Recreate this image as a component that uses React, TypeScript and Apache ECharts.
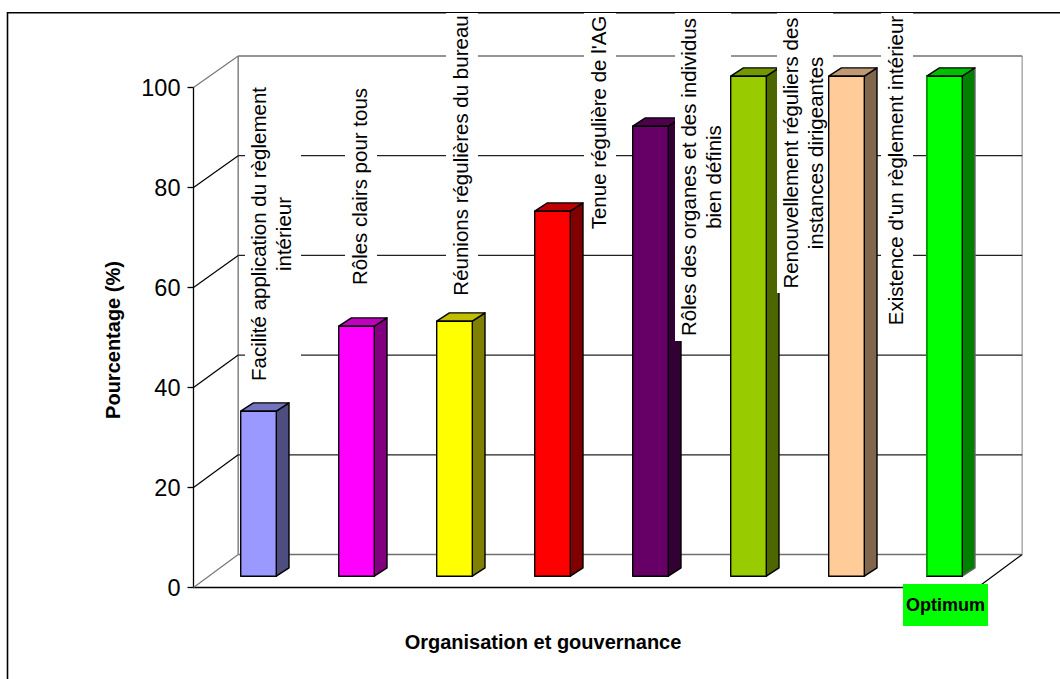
import React, { useEffect, useRef } from "react";
import * as echarts from "echarts";

const categories = [
  "Facilité application du règlement\nintérieur",
  "Rôles clairs pour tous",
  "Réunions régulières du bureau",
  "Tenue régulière de l'AG",
  "Rôles des organes et des individus\nbien définis",
  "Renouvellement réguliers des\ninstances dirigeantes",
  "Existence d'un règlement intérieur",
  "Optimum",
];
const values = [33, 50, 51, 73, 90, 100, 100, 100];
const yTicks = [0, 20, 40, 60, 80, 100];

const frontColors = ["#9999FF", "#FF00FF", "#FFFF00", "#FF0000", "#660066", "#99CC00", "#FFCC99", "#00FF00"];
const sideColors = ["#4D4D80", "#800080", "#808000", "#800000", "#330033", "#4D6600", "#80664D", "#008000"];
const topColors = ["#7373BF", "#BF00BF", "#BFBF00", "#BF0000", "#4D004D", "#739900", "#BF9973", "#00BF00"];

// label boxes in page pixels: left, top, right, bottom
const labelBoxes = [
  [245, 85, 301, 383],
  [345, 85, 377, 288],
  [446, 13, 478, 298],
  [584, 13, 616, 232],
  [675, 13, 731, 341],
  [777, 13, 833, 293],
  [881, 13, 913, 328],
  [903, 584, 988, 626],
];

const FONT = "'Liberation Sans', Arial, sans-serif";
const WALL_DX = 44.7;
const WALL_DY = -33;
const WALL_SQUEEZE = 1.5;
const BAR_SHIFT_X = 16;
const BAR_SHIFT_Y = -11.3;
const BAR_W = 35.6;
const BAR_DX = 12.7;
const BAR_DY = -8.3;
const LABEL_SHIFT_X = -2;

function renderWall(params: any, api: any) {
  const cs = params.coordSys;
  const v = api.value(1);
  const y = api.coord([0, v])[1];
  const yw = y + WALL_DY + (WALL_SQUEEZE * v) / 100;
  const x0 = cs.x;
  const x1 = cs.x + cs.width;
  const edge = v === 0 || v === 100;
  const line = (a: number, b: number, c: number, d: number, stroke: string, lineWidth: number) => ({
    type: "line",
    shape: { x1: a, y1: b, x2: c, y2: d },
    style: { stroke, lineWidth, fill: null },
    silent: true,
  });
  const children: any[] = [
    line(x0, y, x0 + WALL_DX, yw, edge ? "#777777" : "#000000", 1.2),
    line(x0 + WALL_DX, yw, x1 + WALL_DX, yw, edge ? "#707070" : "#222222", edge ? 1.6 : 1.3),
  ];
  if (v === 0) {
    const yTop = cs.y + WALL_DY + WALL_SQUEEZE;
    children.push(line(x1, y, x1 + WALL_DX, yw, "#000000", 1.2));
    children.push(line(x0 + WALL_DX, yw, x0 + WALL_DX, yTop, "#8a8a8a", 1.6));
    children.push(line(x1 + WALL_DX, yw, x1 + WALL_DX, yTop, "#b0b0b0", 1.6));
  }
  return { type: "group", children };
}

function renderBar(params: any, api: any) {
  const i = params.dataIndex;
  const cat = api.value(0);
  const v = api.value(1);
  const top = api.coord([cat, v]);
  const base = api.coord([cat, 0]);
  const left = top[0] + BAR_SHIFT_X - BAR_W / 2;
  const right = left + BAR_W;
  const yt = top[1] + BAR_SHIFT_Y;
  const yb = base[1] + BAR_SHIFT_Y;
  const isLast = i === categories.length - 1;
  const outline = { stroke: "#000000", lineWidth: 1.4, lineJoin: "round" };
  const children: any[] = [
    {
      type: "polygon",
      shape: { points: [[right, yt], [right + BAR_DX, yt + BAR_DY], [right + BAR_DX, yb + BAR_DY], [right, yb]] },
      style: { fill: sideColors[i], ...outline, stroke: isLast ? "#666666" : "#000000" },
    },
    {
      type: "polygon",
      shape: { points: [[left, yt], [left + BAR_DX, yt + BAR_DY], [right + BAR_DX, yt + BAR_DY], [right, yt]] },
      style: { fill: topColors[i], ...outline },
    },
    {
      type: "rect",
      shape: { x: left, y: yt, width: BAR_W, height: yb - yt },
      style: { fill: frontColors[i], ...outline },
    },
  ];
  if (isLast) {
    children.push({
      type: "line",
      shape: { x1: left, y1: yt, x2: left, y2: yb },
      style: { stroke: "#00A000", lineWidth: 1.4 },
    });
  }
  const [bl, bt, br, bb] = labelBoxes[i];
  children.push({
    type: "rect",
    shape: { x: bl, y: bt, width: br - bl, height: bb - bt },
    style: { fill: isLast ? "#00FF00" : "#FFFFFF", stroke: null },
  });
  children.push({
    type: "text",
    x: (bl + br) / 2 + (isLast ? 0 : LABEL_SHIFT_X),
    y: (bt + bb) / 2,
    rotation: isLast ? 0 : Math.PI / 2,
    style: {
      text: categories[i],
      fill: "#000000",
      fontFamily: FONT,
      fontSize: isLast ? 18 : 20.5,
      fontWeight: isLast ? "bold" : "normal",
      lineHeight: 25,
      align: "center",
      verticalAlign: "middle",
    },
  });
  return { type: "group", children };
}

export default function App() {
  const ref = useRef<HTMLDivElement>(null);
  useEffect(() => {
    const chart = echarts.init(ref.current!, null, { renderer: "svg" });
    chart.setOption({
      animation: false,
      backgroundColor: "#FFFFFF",
      grid: { left: 193.5, top: 87.5, width: 784, height: 500 },
      xAxis: {
        type: "category",
        data: categories,
        axisLine: { show: true, lineStyle: { color: "#000000", width: 1.3 } },
        axisTick: { show: false },
        axisLabel: { show: false },
        splitLine: { show: false },
      },
      yAxis: {
        type: "value",
        min: 0,
        max: 100,
        interval: 20,
        axisLine: { show: true, lineStyle: { color: "#000000", width: 1.3 } },
        axisTick: { show: true, length: 6, lineStyle: { color: "#000000", width: 1.3 } },
        axisLabel: { color: "#000000", fontFamily: FONT, fontSize: 23.5, margin: 13 },
        splitLine: { show: false },
      },
      graphic: [
        {
          type: "polyline",
          z: -1,
          shape: { points: [[7.5, 680], [7.5, 12.7], [1061, 12.7]] },
          style: { stroke: "#000000", lineWidth: 1.6, fill: null },
        },
        {
          type: "text",
          x: 113,
          y: 340,
          rotation: Math.PI / 2,
          style: {
            text: "Pourcentage (%)",
            fill: "#000000",
            fontFamily: FONT,
            fontSize: 20,
            fontWeight: "bold",
            align: "center",
            verticalAlign: "middle",
          },
        },
        {
          type: "text",
          x: 543,
          y: 642,
          style: {
            text: "Organisation et gouvernance",
            fill: "#000000",
            fontFamily: FONT,
            fontSize: 20,
            fontWeight: "bold",
            align: "center",
            verticalAlign: "middle",
          },
        },
      ],
      series: [
        {
          type: "custom",
          z: 1,
          silent: true,
          clip: false,
          renderItem: renderWall,
          data: yTicks.map((t) => [0, t]),
          encode: { x: 0, y: 1 },
        },
        {
          type: "custom",
          z: 2,
          silent: true,
          clip: false,
          renderItem: renderBar,
          data: values.map((v, i) => [i, v]),
          encode: { x: 0, y: 1 },
        },
      ],
    });
    return () => chart.dispose();
  }, []);
  return (
    <div
      ref={ref}
      style={{ position: "fixed", left: 0, top: 0, width: 1060, height: 679, background: "#fff" }}
    />
  );
}
